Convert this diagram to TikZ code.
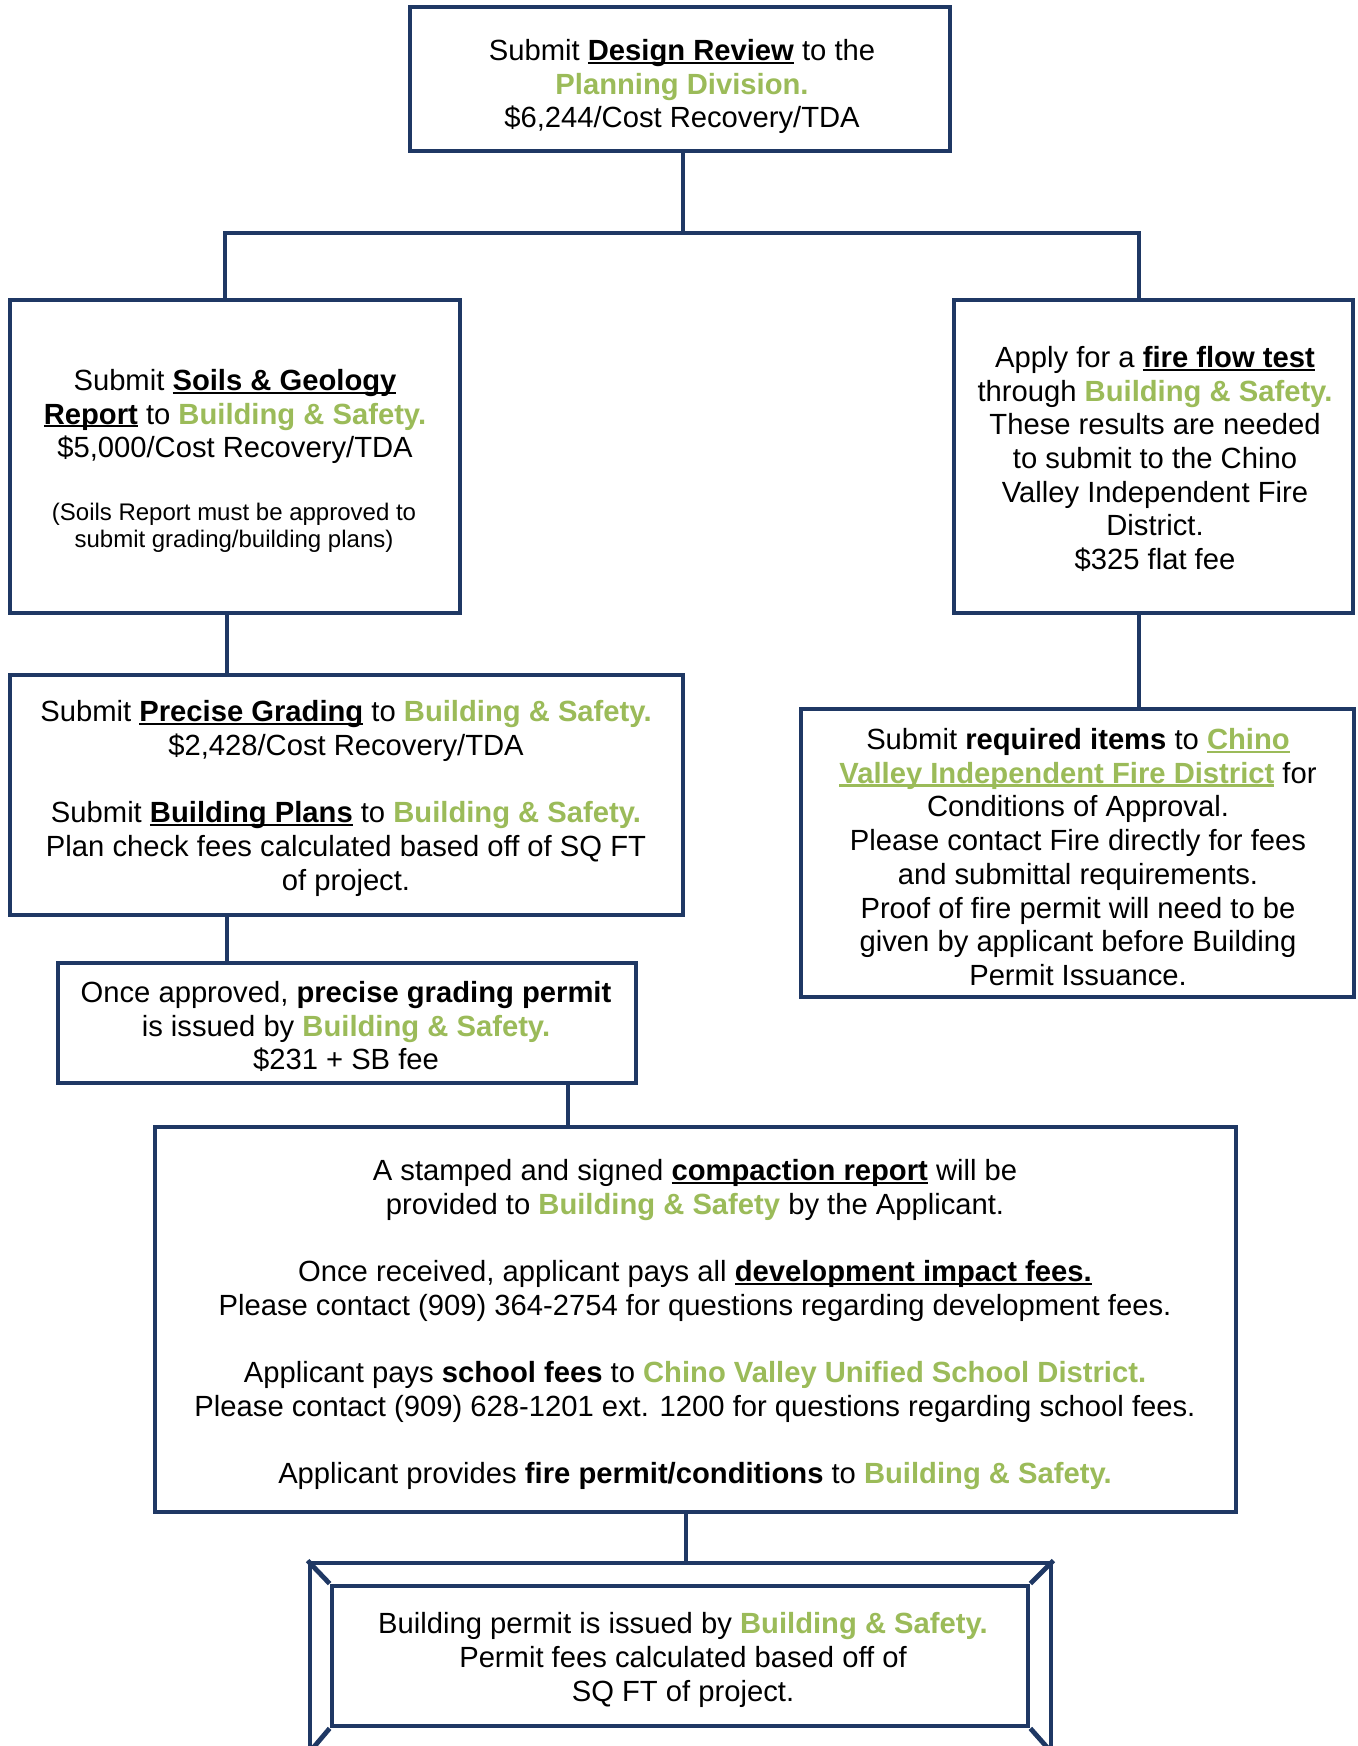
\documentclass[tikz,border=0pt]{standalone}
\usepackage{fontspec}
\setmainfont{Liberation Sans}
\definecolor{navy}{RGB}{31,56,100}
\definecolor{grn}{RGB}{155,187,89}
\newcommand{\ulx}[2][black]{\setbox0\hbox{#2}\leavevmode\rlap{\color{#1}\rule[-1.7pt]{\wd0}{1.1pt}}\box0\relax}
\newcommand{\grn}[1]{{\color{grn}\bfseries #1}}
\begin{document}
\begin{tikzpicture}[x=0.5pt,y=-0.5pt,
  box/.style={draw=navy, line width=2.4pt, inner sep=0pt, fill=white},
  txt/.style={align=center, font=\fontsize{14.6}{16.85}\selectfont, inner sep=0pt},
  smalltxt/.style={align=center, font=\fontsize{12}{13.4}\selectfont, inner sep=0pt},
  conn/.style={draw=navy, line width=2.4pt}]
\useasboundingbox (0,0) rectangle (1357,1746);
\clip (0,0) rectangle (1357,1746);

% boxes
\node[box, minimum width=270pt, minimum height=72pt] (top) at (680,79) {};
\node[box, minimum width=225pt, minimum height=156.5pt] (soils) at (235,456.5) {};
\node[box, minimum width=199.5pt, minimum height=156.5pt] (fireflow) at (1153.5,456.5) {};
\node[box, minimum width=336.5pt, minimum height=120pt] (grading) at (346.5,795) {};
\node[box, minimum width=276.5pt, minimum height=144pt] (firedist) at (1077.5,853) {};
\node[box, minimum width=289pt, minimum height=60pt] (permit) at (347,1023) {};
\node[box, minimum width=540.5pt, minimum height=192.5pt] (big) at (695.5,1319.5) {};
\node[box, minimum width=370.5pt, minimum height=94.5pt] (frame) at (680.5,1657.5) {};
\node[box, minimum width=348pt, minimum height=70pt] (final) at (680,1656) {};
\draw[conn] (frame.north west) -- (final.north west);
\draw[conn] (frame.north east) -- (final.north east);
\draw[conn] (frame.south west) -- (final.south west);
\draw[conn] (frame.south east) -- (final.south east);

% connector coordinates
\coordinate (jT) at (683,233);
\coordinate (jL) at (225,233);
\coordinate (jR) at (1139,233);
\coordinate (xL) at (227,0);
\coordinate (xP) at (568,0);
\coordinate (xB) at (686,0);

\draw[conn] (top.south -| jT) -- (jT);
\draw[conn] (jL |- soils.north) -- (jL) -- (jR) -- (jR |- fireflow.north);
\draw[conn] (soils.south -| xL) -- (grading.north -| xL);
\draw[conn] (fireflow.south -| jR) -- (firedist.north -| jR);
\draw[conn] (grading.south -| xL) -- (permit.north -| xL);
\draw[conn] (permit.south -| xP) -- (big.north -| xP);
\draw[conn] (big.south -| xB) -- (frame.north -| xB);

% texts
\node[txt] (ttop) at (682,86.5) {Submit \ulx{\textbf{Design Review}} to the\\
  \grn{Planning Division.}\\
  \$6,244/Cost Recovery/TDA};

\node[txt] (tsoils) at (235,416.5) {Submit \ulx{\textbf{Soils \& Geology}}\\
  \ulx{\textbf{Report}} to \grn{Building \& Safety.}\\
  \$5,000/Cost Recovery/TDA};
\node[smalltxt] (tsoils2) at (234,528) {(Soils Report must be approved to\\
  submit grading/building plans)};

\node[txt] (tfireflow) at (1155,459) {Apply for a \ulx{\textbf{fire flow test}}\\
  through \grn{Building \& Safety.}\\
  These results are needed\\
  to submit to the Chino\\
  Valley Independent Fire\\
  District.\\
  \$325 flat fee};

\node[txt] (tgrading) at (346,798.5) {Submit \ulx{\textbf{Precise Grading}} to \grn{Building \& Safety.}\\
  \$2,428/Cost Recovery/TDA\\[16.85pt]
  Submit \ulx{\textbf{Building Plans}} to \grn{Building \& Safety.}\\
  Plan check fees calculated based off of SQ FT\\
  of project.};

\node[txt] (tfiredist) at (1078,857) {Submit \textbf{required items} to \ulx[grn]{\grn{Chino}}\\
  \ulx[grn]{\grn{Valley Independent Fire District}} for\\
  Conditions of Approval.\\
  Please contact Fire directly for fees\\
  and submittal requirements.\\
  Proof of fire permit will need to be\\
  given by applicant before Building\\
  Permit Issuance.};

\node[txt] (tpermit) at (346,1026.5) {Once approved, \textbf{precise grading permit}\\
  is issued by \grn{Building \& Safety.}\\
  \$231 + SB fee};

\node[txt] (tbig) at (695,1324.5) {A stamped and signed \ulx{\textbf{compaction report}} will be\\
  provided to \grn{Building \& Safety} by the Applicant.\\[16.85pt]
  Once received, applicant pays all \ulx{\textbf{development impact fees.}}\\
  Please contact (909) 364-2754 for questions regarding development fees.\\[16.85pt]
  Applicant pays \textbf{school fees} to \grn{Chino Valley Unified School District.}\\
  Please contact (909) 628-1201 ext. 1200 for questions regarding school fees.\\[16.85pt]
  Applicant provides \textbf{fire permit/conditions} to \grn{Building \& Safety.}};

\node[txt] (tfinal) at (683,1660) {Building permit is issued by \grn{Building \& Safety.}\\
  Permit fees calculated based off of\\
  SQ FT of project.};
\end{tikzpicture}
\end{document}
